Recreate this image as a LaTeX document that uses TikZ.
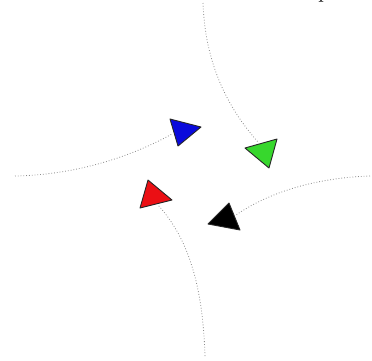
\documentclass[tikz,border=0pt]{standalone}
\begin{document}
\begin{tikzpicture}[x=1pt,y=-1pt,
  trail/.style={draw=gray!90, line width=0.8pt, dotted},
  head/.style={draw=black!85, line width=0.9pt, line join=round}]
\definecolor{hblue}{RGB}{10,10,220}
\definecolor{hgreen}{RGB}{55,215,45}
\definecolor{hred}{RGB}{235,15,20}
\useasboundingbox[fill=white] (0,0) rectangle (372,360);
% curve end points
\coordinate (T0) at (203,3);
\coordinate (L0) at (15,176);
\coordinate (R0) at (370,176);
\coordinate (B0) at (205,356);
% triangle vertices
\coordinate (b1) at (170,119); \coordinate (b2) at (201,127); \coordinate (b3) at (178,146);
\coordinate (g1) at (245,148); \coordinate (g2) at (277,139); \coordinate (g3) at (269,168);
\coordinate (k1) at (229,203); \coordinate (k2) at (240,230); \coordinate (k3) at (208,224);
\coordinate (r1) at (140,208); \coordinate (r2) at (172,200); \coordinate (r3) at (148,180);
% back-edge midpoints where trails arrive
\coordinate (bm) at (172,134);
\coordinate (gm) at (258,142);
\coordinate (km) at (236,215);
\coordinate (rm) at (158,205);
% trails
\draw[trail] (L0) .. controls (70,175) and (125,160) .. (bm);
\draw[trail] (T0) .. controls (205,60) and (225,105) .. (gm);
\draw[trail] (R0) .. controls (310,178) and (265,195) .. (km);
\draw[trail] (B0) .. controls (203,290) and (190,240) .. (rm);
% heads
\filldraw[head, fill=hblue] (b1) -- (b2) -- (b3) -- cycle;
\filldraw[head, fill=hgreen] (g1) -- (g2) -- (g3) -- cycle;
\filldraw[head, fill=black] (k1) -- (k2) -- (k3) -- cycle;
\filldraw[head, fill=hred] (r1) -- (r2) -- (r3) -- cycle;
% clipped text fragment at top edge
\node[anchor=base west, inner sep=0pt, font=\fontsize{24}{24}\selectfont] (frag) at (318,-2.5) {p};
\end{tikzpicture}
\end{document}
